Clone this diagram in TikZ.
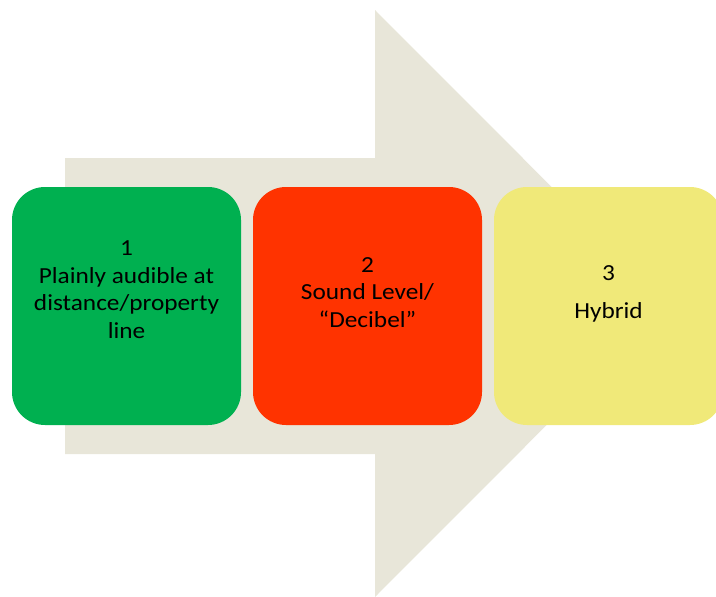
\documentclass[tikz,border=0pt]{standalone}
\usepackage{fontspec}
\setmainfont{Carlito}[FakeStretch=1.1]
\definecolor{arrowbg}{RGB}{232,230,217}
\definecolor{boxgreen}{RGB}{0,176,80}
\definecolor{boxred}{RGB}{255,51,0}
\definecolor{boxyellow}{RGB}{240,233,121}
\tikzset{
  stepbox/.style={rounded corners=33pt},
  steptext/.style={anchor=base, align=center, inner sep=0pt,
    font=\fontsize{23}{27.5}\selectfont, text=black}
}
\begin{document}
\begin{tikzpicture}[x=1pt,y=-1pt]
\useasboundingbox (0,0) rectangle (716,597);
\clip (0,0) rectangle (716,597);
% big arrow
\fill[arrowbg] (65,158) -- (375,158) -- (375,10) -- (668,303.5) -- (375,597) -- (375,454) -- (65,454) -- cycle;
% boxes
\fill[boxgreen, stepbox] (12,187) rectangle (241,425);
\fill[boxred, stepbox] (253,187) rectangle (482,425);
\fill[boxyellow, stepbox] (494,187) rectangle (723,425);
\coordinate (g) at (126.5,338);
\coordinate (r) at (367.5,327);
\coordinate (y) at (608.5,318);
\node[steptext] (t1) at (g) {1\\Plainly audible at\\distance/property\\line};
\node[steptext] (t2) at (r) {2\\Sound Level/\\“Decibel”};
\node[steptext] (t3) at (y) {3\\[10.5pt]Hybrid};
\end{tikzpicture}
\end{document}
